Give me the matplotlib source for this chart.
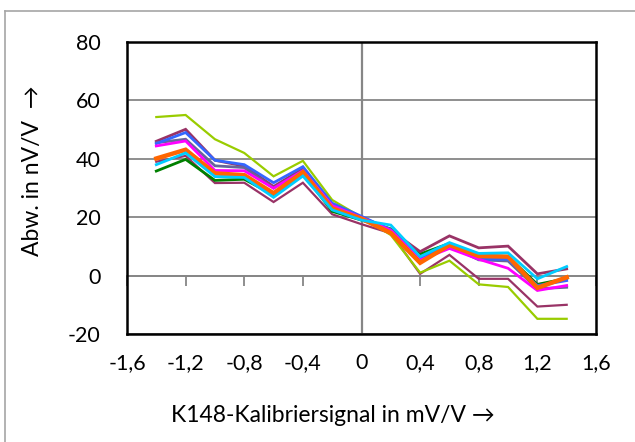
import matplotlib
matplotlib.use("Agg")
import matplotlib.pyplot as plt
from matplotlib.lines import Line2D

plt.rcParams["font.family"] = ["Lato", "DejaVu Sans"]

# K148 calibration signal (mV/V) and deviation series (nV/V)
x_vals = [-1.4, -1.2, -1.0, -0.8, -0.6, -0.4, -0.2, 0.0, 0.2, 0.4, 0.6, 0.8, 1.0, 1.2, 1.4]

plum_low = [39.0, 41.0, 31.7, 31.8, 25.2, 31.8, 21.0, 17.6, 14.5, 0.6, 7.1, -1.1, -1.1, -10.6, -10.0]
yellowgreen = [54.3, 55.0, 46.7, 42.0, 34.0, 39.3, 25.9, 20.0, 13.9, 1.0, 5.1, -3.0, -3.9, -14.8, -14.8]
green = [35.8, 39.8, 32.6, 33.0, 27.6, 35.0, 22.0, 19.0, 16.0, 7.4, 11.0, 7.0, 6.5, -3.0, -1.0]
plum = [46.0, 50.1, 39.5, 37.5, 30.5, 36.6, 24.5, 20.0, 15.5, 8.2, 13.6, 9.5, 10.1, 0.6, 2.3]
grayblue = [45.5, 46.7, 37.6, 37.0, 30.0, 36.0, 24.0, 20.0, 15.8, 6.0, 10.2, 5.4, 5.0, -4.5, -4.0]
blue = [45.2, 49.0, 39.5, 38.0, 31.8, 37.3, 24.8, 20.3, 15.6, 5.9, 10.5, 5.6, 5.6, -3.4, -1.7]
magenta = [44.4, 46.1, 36.0, 35.9, 29.9, 35.9, 24.0, 19.8, 15.5, 5.3, 9.3, 5.6, 2.5, -5.1, -3.4]
orange = [40.1, 43.1, 35.0, 34.4, 28.2, 35.4, 23.0, 19.5, 14.6, 4.4, 10.5, 6.7, 6.5, -4.2, -0.6]
cyan = [38.0, 42.0, 33.9, 33.6, 26.8, 34.1, 22.5, 19.0, 17.3, 6.5, 11.3, 7.6, 7.8, -1.1, 3.1]

series = [
    (plum_low, "#993366", 1.6),
    (yellowgreen, "#99CC00", 1.6),
    (green, "#008000", 2.0),
    (plum, "#993366", 2.0),
    (grayblue, "#666699", 2.0),
    (blue, "#3366FF", 2.0),
    (magenta, "#FF00FF", 2.0),
    (orange, "#FF6600", 3.2),
    (cyan, "#00CCFF", 2.0),
]

x_ticks = [-1.6, -1.2, -0.8, -0.4, 0, 0.4, 0.8, 1.2, 1.6]
x_labels = ["-1,6", "-1,2", "-0,8", "-0,4", "0", "0,4", "0,8", "1,2", "1,6"]
y_ticks = [-20, 0, 20, 40, 60, 80]

W, H = 635, 442
fig = plt.figure(figsize=(W / 100, H / 100), dpi=100)
ax = fig.add_axes([127 / W, 1 - 334 / H, (596 - 127) / W, (334 - 42) / H])

# outer chart-area border (runs off the right/bottom edge)
fig.add_artist(Line2D([5 / W, 5 / W], [0, 1 - 11 / H], color="#A6A6A6", lw=1.2))
fig.add_artist(Line2D([5 / W, 1], [1 - 11 / H, 1 - 11 / H], color="#A6A6A6", lw=1.2))

for ys, col, lw in series:
    ax.plot(x_vals, ys, color=col, lw=lw, solid_joinstyle="miter", zorder=3)

ax.set_xlim(-1.6, 1.6)
ax.set_ylim(-20, 80)
ax.set_yticks(y_ticks)
ax.set_yticklabels([str(v) for v in y_ticks])
ax.set_xticks(x_ticks)
ax.set_xticklabels(x_labels)
ax.tick_params(axis="both", length=0, labelsize=15.5, colors="#000000")
ax.tick_params(axis="x", pad=14)
ax.tick_params(axis="y", pad=19)

ax.grid(axis="y", color="#868686", lw=1.3, zorder=1)
ax.grid(axis="x", visible=False)
for sp in ax.spines.values():
    sp.set_color("#000000")
    sp.set_linewidth(1.8)
    sp.set_zorder(5)

# axes crossing at the origin (Excel style), ticks pointing out
sec_x = ax.secondary_xaxis(0.2)
sec_x.set_xticks(x_ticks)
sec_x.set_xticklabels([])
sec_x.tick_params(direction="out", length=7, width=1.3, color="#868686")
sec_x.spines["bottom"].set_color("#868686")
sec_x.spines["bottom"].set_linewidth(1.3)

ax.axvline(0, color="#868686", lw=1.6, zorder=2)

fig.text(333 / W, 1 - 415 / H, "K148-Kalibriersignal in mV/V \u2192",
         ha="center", va="center", fontsize=16.5)
fig.text(33 / W, 1 - 171 / H, "Abw. in nV/V  \u2192", rotation=90,
         ha="center", va="center", fontsize=16.5)

fig.savefig("out.png", dpi=100)
